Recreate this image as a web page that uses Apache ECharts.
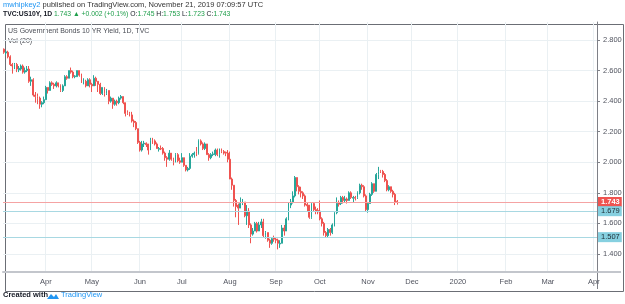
<!DOCTYPE html>
<html>
<head>
<meta charset="utf-8">
<script src="https://cdn.jsdelivr.net/npm/echarts@6/dist/echarts.min.js"></script>
<style>
  html, body { margin: 0; padding: 0; background: #fff; }
  #chart { width: 625px; height: 304px; }
</style>
</head>
<body>
<div id="chart"></div>
<script>
  // daily candles, [open, close, low, high]
  var mar = [
    [2.74, 2.72, 2.71, 2.745], [2.715, 2.723, 2.70, 2.73], [2.72, 2.69, 2.68, 2.73], [2.69, 2.64, 2.63, 2.70],
    [2.64, 2.63, 2.58, 2.65], [2.63, 2.64, 2.61, 2.65], [2.64, 2.61, 2.59, 2.65], [2.605, 2.615, 2.59, 2.63],
    [2.61, 2.63, 2.60, 2.64], [2.63, 2.59, 2.58, 2.64], [2.59, 2.60, 2.58, 2.62], [2.60, 2.61, 2.59, 2.63],
    [2.61, 2.53, 2.52, 2.63], [2.53, 2.54, 2.50, 2.56], [2.54, 2.44, 2.43, 2.55], [2.44, 2.43, 2.39, 2.46],
    [2.43, 2.42, 2.38, 2.45], [2.42, 2.38, 2.35, 2.43], [2.38, 2.39, 2.36, 2.40], [2.39, 2.41, 2.38, 2.43]
  ];
  var apr = [
    [2.41, 2.49, 2.41, 2.50], [2.49, 2.47, 2.45, 2.49], [2.47, 2.52, 2.47, 2.53], [2.52, 2.51, 2.50, 2.53],
    [2.51, 2.50, 2.48, 2.52], [2.50, 2.52, 2.49, 2.53], [2.52, 2.50, 2.49, 2.52], [2.50, 2.47, 2.46, 2.51],
    [2.47, 2.50, 2.46, 2.51], [2.50, 2.56, 2.50, 2.57], [2.56, 2.55, 2.54, 2.57], [2.55, 2.60, 2.55, 2.60],
    [2.60, 2.59, 2.58, 2.62], [2.59, 2.56, 2.55, 2.60], [2.56, 2.565, 2.55, 2.57], [2.56, 2.60, 2.56, 2.60],
    [2.60, 2.57, 2.56, 2.60], [2.57, 2.52, 2.52, 2.58], [2.52, 2.53, 2.51, 2.55], [2.53, 2.50, 2.49, 2.54],
    [2.50, 2.54, 2.50, 2.55], [2.54, 2.51, 2.49, 2.55]
  ];
  var may = [
    [2.51, 2.50, 2.46, 2.52], [2.50, 2.55, 2.50, 2.57], [2.55, 2.53, 2.50, 2.56], [2.53, 2.51, 2.46, 2.53],
    [2.51, 2.45, 2.44, 2.52], [2.45, 2.49, 2.44, 2.49], [2.49, 2.45, 2.43, 2.49], [2.45, 2.47, 2.44, 2.48],
    [2.47, 2.40, 2.38, 2.47], [2.40, 2.42, 2.39, 2.43], [2.42, 2.38, 2.35, 2.42], [2.38, 2.40, 2.37, 2.41],
    [2.40, 2.39, 2.37, 2.41], [2.39, 2.42, 2.38, 2.43], [2.42, 2.43, 2.41, 2.44], [2.43, 2.39, 2.38, 2.43],
    [2.39, 2.32, 2.30, 2.39], [2.325, 2.32, 2.31, 2.34], [2.32, 2.31, 2.30, 2.33], [2.31, 2.27, 2.26, 2.33],
    [2.27, 2.26, 2.23, 2.28], [2.26, 2.22, 2.21, 2.27], [2.22, 2.13, 2.12, 2.22]
  ];
  var jun = [
    [2.13, 2.08, 2.07, 2.14], [2.08, 2.12, 2.07, 2.14], [2.12, 2.125, 2.10, 2.14], [2.125, 2.115, 2.10, 2.13],
    [2.12, 2.08, 2.05, 2.12], [2.08, 2.14, 2.08, 2.16], [2.145, 2.14, 2.12, 2.16], [2.14, 2.12, 2.11, 2.15],
    [2.12, 2.09, 2.09, 2.13], [2.085, 2.09, 2.07, 2.10], [2.09, 2.087, 2.08, 2.11], [2.09, 2.06, 2.05, 2.10],
    [2.06, 2.03, 2.01, 2.07], [2.03, 2.02, 1.97, 2.04], [2.02, 2.06, 2.01, 2.08], [2.06, 2.02, 2.01, 2.06],
    [2.02, 2.00, 1.98, 2.03], [2.00, 2.05, 2.00, 2.06], [2.05, 2.01, 2.00, 2.06], [2.01, 2.00, 1.99, 2.03]
  ];
  var jul = [
    [2.00, 2.03, 2.00, 2.06], [2.03, 1.98, 1.97, 2.03], [1.98, 1.95, 1.94, 1.98], [1.95, 1.96, 1.94, 1.97],
    [1.96, 2.04, 1.95, 2.06], [2.04, 2.05, 2.03, 2.06], [2.05, 2.06, 2.03, 2.07], [2.07, 2.06, 2.04, 2.10],
    [2.06, 2.14, 2.05, 2.15], [2.14, 2.12, 2.11, 2.15], [2.12, 2.09, 2.08, 2.13], [2.09, 2.12, 2.08, 2.13],
    [2.12, 2.05, 2.05, 2.12], [2.05, 2.03, 2.01, 2.06], [2.03, 2.05, 2.02, 2.06], [2.05, 2.055, 2.04, 2.07],
    [2.05, 2.08, 2.04, 2.09], [2.08, 2.05, 2.04, 2.09], [2.05, 2.08, 2.03, 2.09], [2.08, 2.07, 2.06, 2.09],
    [2.07, 2.06, 2.05, 2.08], [2.065, 2.06, 2.04, 2.07], [2.06, 2.02, 2.00, 2.08]
  ];
  var aug = [
    [2.02, 1.89, 1.89, 2.07], [1.89, 1.85, 1.82, 1.90], [1.85, 1.75, 1.71, 1.85], [1.75, 1.71, 1.64, 1.76],
    [1.72, 1.70, 1.59, 1.73], [1.70, 1.73, 1.70, 1.77], [1.73, 1.74, 1.72, 1.76], [1.74, 1.65, 1.64, 1.74],
    [1.65, 1.68, 1.59, 1.72], [1.68, 1.59, 1.57, 1.70], [1.59, 1.53, 1.47, 1.60], [1.53, 1.55, 1.52, 1.57],
    [1.55, 1.60, 1.55, 1.61], [1.60, 1.55, 1.54, 1.61], [1.55, 1.59, 1.55, 1.61], [1.59, 1.61, 1.57, 1.63],
    [1.61, 1.52, 1.51, 1.63], [1.52, 1.54, 1.50, 1.55], [1.54, 1.49, 1.48, 1.54], [1.49, 1.47, 1.44, 1.50],
    [1.47, 1.50, 1.46, 1.51], [1.505, 1.497, 1.48, 1.52]
  ];
  var sep = [
    [1.497, 1.49, 1.47, 1.51], [1.49, 1.47, 1.43, 1.50], [1.465, 1.47, 1.44, 1.49], [1.47, 1.57, 1.47, 1.59],
    [1.57, 1.55, 1.52, 1.59], [1.55, 1.63, 1.55, 1.64], [1.63, 1.72, 1.62, 1.74], [1.72, 1.74, 1.70, 1.76],
    [1.74, 1.78, 1.73, 1.81], [1.78, 1.90, 1.77, 1.91], [1.90, 1.84, 1.81, 1.90], [1.84, 1.81, 1.79, 1.85],
    [1.81, 1.80, 1.77, 1.84], [1.80, 1.78, 1.76, 1.81], [1.78, 1.72, 1.71, 1.79], [1.725, 1.715, 1.68, 1.74],
    [1.72, 1.64, 1.63, 1.72], [1.64, 1.73, 1.63, 1.74], [1.73, 1.69, 1.68, 1.74], [1.69, 1.68, 1.66, 1.71],
    [1.685, 1.675, 1.66, 1.70]
  ];
  var oct = [
    [1.68, 1.63, 1.62, 1.75], [1.63, 1.60, 1.58, 1.64], [1.60, 1.54, 1.52, 1.61], [1.54, 1.52, 1.51, 1.55],
    [1.52, 1.56, 1.51, 1.57], [1.56, 1.54, 1.52, 1.57], [1.54, 1.59, 1.53, 1.60], [1.59, 1.67, 1.58, 1.68],
    [1.67, 1.73, 1.66, 1.77], [1.735, 1.725, 1.71, 1.75], [1.73, 1.77, 1.72, 1.78], [1.77, 1.75, 1.73, 1.78],
    [1.75, 1.76, 1.74, 1.78], [1.76, 1.75, 1.73, 1.77], [1.75, 1.80, 1.75, 1.81], [1.80, 1.77, 1.76, 1.81],
    [1.765, 1.77, 1.74, 1.78], [1.77, 1.765, 1.75, 1.78], [1.77, 1.80, 1.76, 1.81], [1.80, 1.85, 1.79, 1.86],
    [1.85, 1.84, 1.82, 1.86], [1.84, 1.78, 1.77, 1.85], [1.78, 1.69, 1.68, 1.79]
  ];
  var nov = [
    [1.69, 1.73, 1.67, 1.74], [1.73, 1.79, 1.73, 1.80], [1.79, 1.86, 1.78, 1.87], [1.86, 1.81, 1.80, 1.86],
    [1.81, 1.92, 1.81, 1.93], [1.92, 1.94, 1.89, 1.97], [1.945, 1.94, 1.93, 1.95], [1.94, 1.92, 1.90, 1.95],
    [1.92, 1.88, 1.87, 1.93], [1.88, 1.82, 1.81, 1.89], [1.82, 1.84, 1.81, 1.85], [1.84, 1.81, 1.80, 1.84],
    [1.81, 1.79, 1.77, 1.82], [1.79, 1.741, 1.72, 1.80], [1.745, 1.743, 1.723, 1.753]
  ];
  var candles = [].concat(mar, apr, may, jun, jul, aug, sep, oct, nov);

  var priceTicks = [1.4, 1.6, 1.8, 2.0, 2.2, 2.4, 2.6, 2.8];
  var lastPrice = 1.743;
  var levels = [1.679, 1.507];
  var monthNames = ['Jan', 'Feb', 'Mar', 'Apr', 'May', 'Jun', 'Jul', 'Aug', 'Sep', 'Oct', 'Nov', 'Dec'];

  // weekday time scale, running on past the last bar into 2020
  var dates = [];
  var d = new Date(Date.UTC(2019, 2, 4));
  while (dates.length < 284) {
    var wd = d.getUTCDay();
    if (wd !== 0 && wd !== 6) dates.push(d.toISOString().slice(0, 10));
    d.setUTCDate(d.getUTCDate() + 1);
  }
  function monthStart(i) {
    return i > 0 && dates[i].slice(5, 7) !== dates[i - 1].slice(5, 7);
  }

  var myChart = echarts.init(document.getElementById('chart'));
  var font = '"Liberation Sans", Arial, sans-serif';
  var green = '#26a69a', red = '#ef5350';

  var levelLines = [{
    yAxis: lastPrice,
    name: lastPrice.toFixed(3),
    lineStyle: { color: '#f5a3a3' },
    label: { backgroundColor: red, color: '#fff', fontWeight: 'bold' }
  }];
  levels.forEach(function (v) {
    levelLines.push({
      yAxis: v,
      name: v.toFixed(3),
      lineStyle: { color: '#a8d8e2' },
      label: { backgroundColor: '#86d0e0', color: '#1d2b33' }
    });
  });

  myChart.setOption({
    animation: false,
    backgroundColor: '#fff',
    textStyle: { fontFamily: font },
    grid: { left: 3, top: 22, width: 594, height: 250 },
    xAxis: {
      type: 'category',
      data: dates,
      boundaryGap: true,
      axisLine: { lineStyle: { color: '#c3c6cc', width: 2 } },
      axisTick: {
        interval: function (i) { return monthStart(i); },
        length: 3,
        lineStyle: { color: '#9598a1' }
      },
      axisLabel: {
        interval: function (i) { return monthStart(i); },
        formatter: function (v) {
          var m = +v.slice(5, 7) - 1;
          return m === 0 ? v.slice(0, 4) : monthNames[m];
        },
        fontSize: 7.5,
        color: '#50535e',
        margin: 6
      },
      splitLine: {
        show: true,
        interval: function (i) { return monthStart(i); },
        lineStyle: { color: '#eaf0f3' }
      }
    },
    yAxis: {
      type: 'value',
      position: 'right',
      min: 1.282,
      max: 2.918,
      axisLine: { show: true, lineStyle: { color: '#7e8087' } },
      axisTick: { show: true, length: 3, customValues: priceTicks, lineStyle: { color: '#7e8087' } },
      axisLabel: {
        customValues: priceTicks,
        formatter: function (v) { return v.toFixed(3); },
        fontSize: 7.5,
        color: '#50535e',
        margin: 6
      },
      splitLine: { show: true, lineStyle: { color: '#eaf0f3' } }
    },
    series: [{
      type: 'candlestick',
      data: candles,
      barWidth: '65%',
      itemStyle: {
        color: green,
        color0: red,
        borderColor: green,
        borderColor0: red,
        borderWidth: 1
      },
      markLine: {
        silent: true,
        symbol: 'none',
        lineStyle: { type: 'solid', width: 1 },
        label: {
          position: 'end',
          distance: 1,
          formatter: '{b}',
          fontSize: 7.5,
          padding: [1, 2, 1, 3]
        },
        data: levelLines
      }
    }],
    graphic: [
      {
        type: 'text', left: 3, top: 1,
        style: {
          text: '{a|mwhipkey2}{b| published on TradingView.com, November 21, 2019 07:09:57 UTC}',
          font: '7.5px ' + font,
          rich: { a: { fill: '#2196f3', fontSize: 7.5 }, b: { fill: '#333', fontSize: 7.5 } }
        }
      },
      {
        type: 'text', left: 3, top: 11,
        style: {
          text: '{k|TVC:US10Y, 1D} {g|1.743 ▲ +0.002 (+0.1%)} {n|O:}{g|1.745} {n|H:}{g|1.753} {n|L:}{g|1.723} {n|C:}{g|1.743}',
          font: '6.8px ' + font,
          rich: {
            k: { fill: '#131722', fontWeight: 'bold', fontSize: 6.8 },
            n: { fill: '#131722', fontSize: 6.8 },
            g: { fill: '#1e9e4a', fontSize: 6.8 }
          }
        }
      },
      {
        type: 'rect', left: 3, top: 22, silent: true,
        shape: { width: 618, height: 267 },
        style: { fill: null, stroke: '#6b6e75', lineWidth: 1 }
      },
      {
        type: 'line', silent: true,
        shape: { x1: 597.5, y1: 272, x2: 597.5, y2: 289 },
        style: { stroke: '#7e8087', lineWidth: 1 }
      },
      {
        type: 'line', silent: true,
        shape: { x1: 597, y1: 272, x2: 621, y2: 272 },
        style: { stroke: '#c3c6cc', lineWidth: 2 }
      },
      {
        type: 'text', left: 8, top: 28,
        style: { text: 'US Government Bonds 10 YR Yield, 1D, TVC', font: '7px ' + font, fill: '#4a4d55' }
      },
      {
        type: 'text', left: 8, top: 38,
        style: { text: 'Vol (20)', font: '7px ' + font, fill: '#4a4d55' }
      },
      {
        type: 'text', left: 3, top: 291,
        style: {
          text: '{c|Created with}',
          font: '7.5px ' + font,
          rich: { c: { fill: '#131722', fontWeight: 'bold', fontSize: 7.5 } }
        }
      },
      {
        type: 'polygon', silent: true,
        shape: { points: [[47, 299], [51, 294], [54, 297], [56, 294], [59, 299]] },
        style: { fill: '#2196f3' }
      },
      {
        type: 'text', left: 61, top: 291,
        style: { text: 'TradingView', font: '7.5px ' + font, fill: '#2196f3' }
      }
    ]
  });
</script>
</body>
</html>
